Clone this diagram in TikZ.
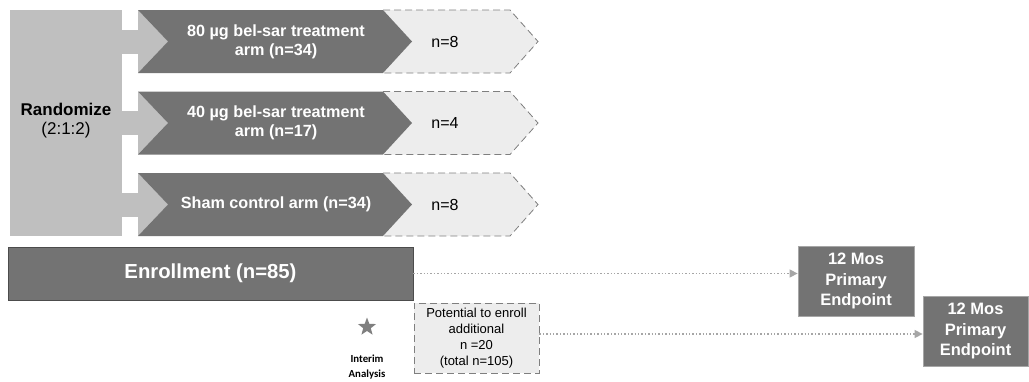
\documentclass[tikz,border=0pt]{standalone}
\usepackage{fontspec}
\setmainfont{Liberation Sans}
\newfontfamily\calibri{Carlito}
\usetikzlibrary{arrows.meta,shapes.geometric}
\definecolor{darkgr}{HTML}{737373}
\definecolor{randgr}{HTML}{BFBFBF}
\definecolor{palegr}{HTML}{EDEDED}
\definecolor{edgegr}{HTML}{7F7F7F}
\definecolor{dotgr}{HTML}{A6A6A6}

\begin{document}
\begin{tikzpicture}[x=1pt, y=-1pt,
    armtext/.style={text=white, font=\bfseries\fontsize{16.2}{19}\selectfont, align=center},
    ntext/.style={font=\fontsize{16}{19}\selectfont},
    dashedge/.style={draw=edgegr, line width=0.8pt, dash pattern=on 7pt off 4pt},
    endbox/.style={fill=darkgr, draw=gray!70, line width=0.8pt, text=white, inner sep=0pt,
        font=\bfseries\fontsize{16.5}{20.5}\selectfont, align=center, minimum height=70},
    link/.style={dotgr, line width=1.4pt, dotted, -{Triangle[length=8pt, width=8pt]}}]
    \useasboundingbox (0,0) rectangle (1029,381);

    \fill[randgr] (10,10) rectangle (122,236);
    \node[align=center, font=\fontsize{17}{19}\selectfont] (rand) at (66,121) {\textbf{Randomize}\\(2:1:2)};

    \foreach \yc/\lab/\num [count=\i] in {41.5/{80 µg bel-sar treatment\\arm (n=34)}/8,
                                          123/{40 µg bel-sar treatment\\arm (n=17)}/4,
                                          204.5/{Sham control arm (n=34)}/8} {
        \fill[randgr] (120,\yc-12) rectangle (150,\yc+12);
        \fill[randgr] (138,\yc-31.5) -- (168,\yc) -- (138,\yc+31.5) -- cycle;
        \fill[palegr] (383,\yc-31.5) -- (510,\yc-31.5) -- (538,\yc) -- (510,\yc+31.5) -- (383,\yc+31.5) -- (412,\yc) -- cycle;
        \draw[dashedge] (383,\yc-31.5) -- (510,\yc-31.5) -- (538,\yc) -- (510,\yc+31.5) -- (383,\yc+31.5);
        \fill[darkgr] (138,\yc-31.5) -- (383,\yc-31.5) -- (412,\yc) -- (383,\yc+31.5) -- (138,\yc+31.5) -- (168,\yc) -- cycle;
        \node[armtext] (arm\i) at (276,\yc) {\lab};
        \node[ntext] (n\i) at (445,\yc) {n=\num};
    }

    \node[fill=darkgr, draw=gray!60!black, line width=0.6pt, minimum width=405, minimum height=53, inner sep=0pt,
        text=white, font=\bfseries\fontsize{20.3}{24}\selectfont] (enroll) at (210.5,273.5) {Enrollment (n=85)};
    \node[fill=palegr, dashedge, minimum width=125, minimum height=70, inner sep=0pt, align=center,
        font=\fontsize{13}{16}\selectfont] (extra) at (476.5,338) {Potential to enroll\\additional\\n =20\\(total n=105)};
    \node[star, star points=5, star point ratio=2.4, fill=edgegr, minimum size=19, inner sep=0pt] (star) at (367,327) {};
    \node[font=\calibri\bfseries\fontsize{10.8}{15}\selectfont, align=center] (interim) at (367,367) {Interim\\Analysis};

    \node[endbox, minimum width=116] (end1) at (856,281) {12 Mos\\Primary\\Endpoint};
    \node[endbox, minimum width=105] (end2) at (975.5,331) {12 Mos\\Primary\\Endpoint};

    \draw[link] (enroll.east) -- (enroll.east -| end1.west);
    \draw[link] ([yshift=4pt]extra.east) -- ([yshift=4pt]extra.east -| end2.west);
\end{tikzpicture}
\end{document}
